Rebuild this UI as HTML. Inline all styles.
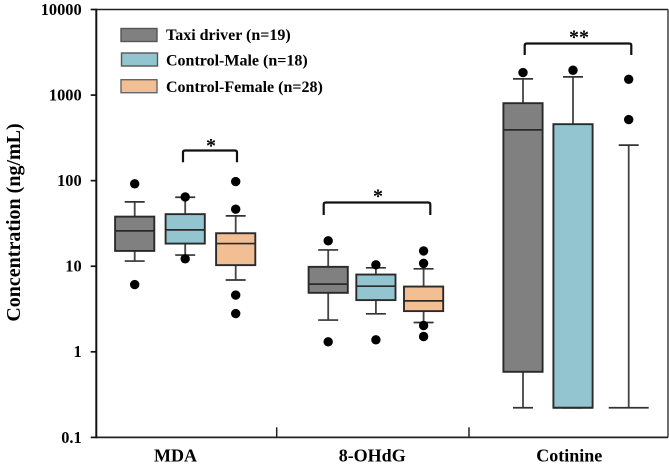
<!DOCTYPE html>
<html lang="en">
<head>
<meta charset="utf-8">
<title>Concentration box plot</title>
<style>
html,body{margin:0;padding:0;background:#fff;}
body{width:669px;height:468px;overflow:hidden;}
svg{display:block;filter:blur(0.3px);}
text{font-family:"Liberation Serif",serif;font-weight:bold;fill:#000;}
</style>
</head>
<body>
<svg id="chart" width="669" height="468" viewBox="0 0 669 468" xmlns="http://www.w3.org/2000/svg">
  <g id="legend">
    <rect x="121" y="28.5" width="36" height="13" fill="#808080" stroke="#555" stroke-width="1.4"/>
    <text x="166" y="40" font-size="16">Taxi driver (n=19)</text>
    <rect x="121.5" y="53" width="36" height="13" fill="#93c5d0" stroke="#555" stroke-width="1.4"/>
    <text x="166" y="65.5" font-size="16">Control-Male (n=18)</text>
    <rect x="121" y="79.7" width="36" height="13" fill="#f2bf95" stroke="#666" stroke-width="1.4"/>
    <text x="166" y="92" font-size="16">Control-Female (n=28)</text>
  </g>
  <text transform="translate(20,222.5) rotate(-90)" text-anchor="middle" font-size="20">Concentration (ng/mL)</text>
</svg>
<script>
const categories = ['MDA', '8-OHdG', 'Cotinine'];
const yTickLabels = ['0.1', '1', '10', '100', '1000', '10000'];
const yTickValues = [0.1, 1, 10, 100, 1000, 10000];

// Each row: [whisker low, Q1, median, Q3, whisker high], one row per category
const taxiBoxes = [
  [11.5, 15.1, 25.9, 38, 56.5],
  [2.35, 4.89, 6.18, 9.84, 15.5],
  [0.222, 0.584, 392, 804, 1545]
];
const maleBoxes = [
  [13.5, 18.4, 26.6, 40.6, 64],
  [2.78, 4.02, 5.85, 8.0, 9.58],
  [0.222, 0.222, 0.222, 457, 1633]
];
const femaleBoxes = [
  [6.9, 10.3, 18.4, 24.3, 38.8],
  [2.2, 2.99, 3.94, 5.79, 9.33],
  [0.222, 0.222, 0.222, 0.222, 260]
];
const taxiOutliers = [[91.8, 6.1], [19.8, 1.31], [1832]];
const maleOutliers = [[64.5, 12.2], [10.4, 1.38], [1950]];
const femaleOutliers = [[97.7, 46.4, 4.6, 2.8], [15.1, 10.8, 2.03, 1.51], [1530, 517]];

const seriesNames = ['taxi-driver', 'control-male', 'control-female'];
const seriesFills = ['#808080', '#93c5d0', '#f2bf95'];
const seriesBoxes = [taxiBoxes, maleBoxes, femaleBoxes];
const seriesOutliers = [taxiOutliers, maleOutliers, femaleOutliers];

const svg = document.getElementById('chart');
const NS = 'http://www.w3.org/2000/svg';
const plotLeft = 96.3, plotRight = 668, plotTop = 9.5, plotBottom = 437.4;
const logMin = -1, logMax = 4;

function yScale(v) {
  return plotBottom - (Math.log10(v) - logMin) / (logMax - logMin) * (plotBottom - plotTop);
}
function xScale(groupIndex, seriesIndex) {
  const groupStart = groupIndex === 2 ? 523 : 134.7 + groupIndex * 193.5;
  const step = groupIndex === 0 ? 50.5 : groupIndex === 1 ? 47.7 : 50;
  const extra = groupIndex === 2 && seriesIndex === 2 ? 5.7 : 0;
  return groupStart + seriesIndex * step + extra;
}
function mk(tag, attrs, parent) {
  const el = document.createElementNS(NS, tag);
  for (const k in attrs) el.setAttribute(k, attrs[k]);
  (parent || svg).appendChild(el);
  return el;
}

// axes
const frame = mk('g', {});


const topSpine = mk('line', {x1: plotLeft, x2: plotRight, y1: plotTop, y2: plotTop, stroke: '#222', 'stroke-width': 1.6}, frame);


const rightSpine = mk('line', {x1: plotRight, x2: plotRight, y1: plotTop, y2: plotBottom, stroke: '#333', 'stroke-width': 1.4}, frame);


const bottomSpine = mk('line', {x1: plotLeft, x2: plotRight, y1: plotBottom, y2: plotBottom, stroke: '#222', 'stroke-width': 1.8}, frame);


const leftSpine = mk('line', {x1: plotLeft, x2: plotLeft, y1: plotTop - 0.8, y2: plotBottom + 0.8, stroke: '#111', 'stroke-width': 2}, frame);



yTickValues.forEach(function (v, i) {
  const y = yScale(v);
  const tick = mk('line', {x1: 90.7, x2: plotLeft, y1: y, y2: y, stroke: '#111', 'stroke-width': 1.7}, frame);
  
  
  const label = mk('text', {x: 81.7, y: y + 5.4, 'text-anchor': 'end', 'font-size': 16.4}, frame);
  
  
  label.textContent = yTickLabels[i];
});

[276.7, 469].forEach(function (x) {
  const div = mk('line', {x1: x, x2: x, y1: 427.3, y2: plotBottom, stroke: '#222', 'stroke-width': 1.5}, frame);
  
  
});

[175.5, 372.2, 569.3].forEach(function (x, i) {
  const label = mk('text', {x: x, y: 461.7, 'text-anchor': 'middle', 'font-size': 18}, frame);
  
  
  label.textContent = categories[i];
});

// boxes
const halfBox = 19.6, halfCap = 10;
seriesBoxes.forEach(function (rows, s) {
  rows.forEach(function (row, g) {
    const x = xScale(g, s);
    const yLow = yScale(row[0]), yQ1 = yScale(row[1]), yMed = yScale(row[2]), yQ3 = yScale(row[3]), yHigh = yScale(row[4]);
    const collapsed = row[1] === row[3];
    const lowHalf = collapsed ? 20 : halfCap;
    const group = mk('g', {});
    
    
    const wline = mk('line', {x1: x, x2: x, y1: yHigh, y2: yLow, stroke: '#444', 'stroke-width': 1.8}, group);
    
    
    const capHigh = mk('line', {x1: x - halfCap, x2: x + halfCap, y1: yHigh, y2: yHigh, stroke: '#333', 'stroke-width': 1.7}, group);
    
    
    const capLow = mk('line', {x1: x - lowHalf, x2: x + lowHalf, y1: yLow, y2: yLow, stroke: '#333', 'stroke-width': 1.7}, group);
    
    
    const rect = mk('rect', {x: x - halfBox, y: yQ3, width: halfBox * 2, height: Math.max(0, yQ1 - yQ3), fill: seriesFills[s], stroke: collapsed ? 'none' : '#2a2a2a', 'stroke-width': 1.9}, group);
    
    
    if (!collapsed) {
      const med = mk('line', {x1: x - halfBox, x2: x + halfBox, y1: yMed, y2: yMed, stroke: '#2a2a2a', 'stroke-width': 1.7}, group);
      
      
    }
  });
});

// outliers
seriesOutliers.forEach(function (rows, s) {
  rows.forEach(function (vals, g) {
    vals.forEach(function (v) {
      const dot = mk('circle', {cx: xScale(g, s), cy: yScale(v), r: 4.7, fill: '#000'});
      
      
    });
  });
});

// significance brackets
function bracket(x1, x2, yTop, yBottom, mark, markY, name) {
  const p = mk('path', {d: 'M' + x1 + ' ' + yBottom + 'V' + (yTop + 2) + 'Q' + x1 + ' ' + yTop + ' ' + (x1 + 2) + ' ' + yTop + 'H' + (x2 - 2) + 'Q' + x2 + ' ' + yTop + ' ' + x2 + ' ' + (yTop + 2) + 'V' + yBottom, fill: 'none', stroke: '#111', 'stroke-width': 2.2});
  
  
  const t = mk('text', {x: (x1 + x2) / 2 + 1, y: markY, 'text-anchor': 'middle', 'font-size': 20});
  
  
  t.textContent = mark;
}
bracket(183, 237, 150.5, 162.3, '*', 152, 'mda');
bracket(323.7, 430.3, 202.5, 215, '*', 202.5, 'ohdg');
bracket(524.7, 631.3, 43.5, 55, '**', 43.5, 'cotinine');
</script>
</body>
</html>
